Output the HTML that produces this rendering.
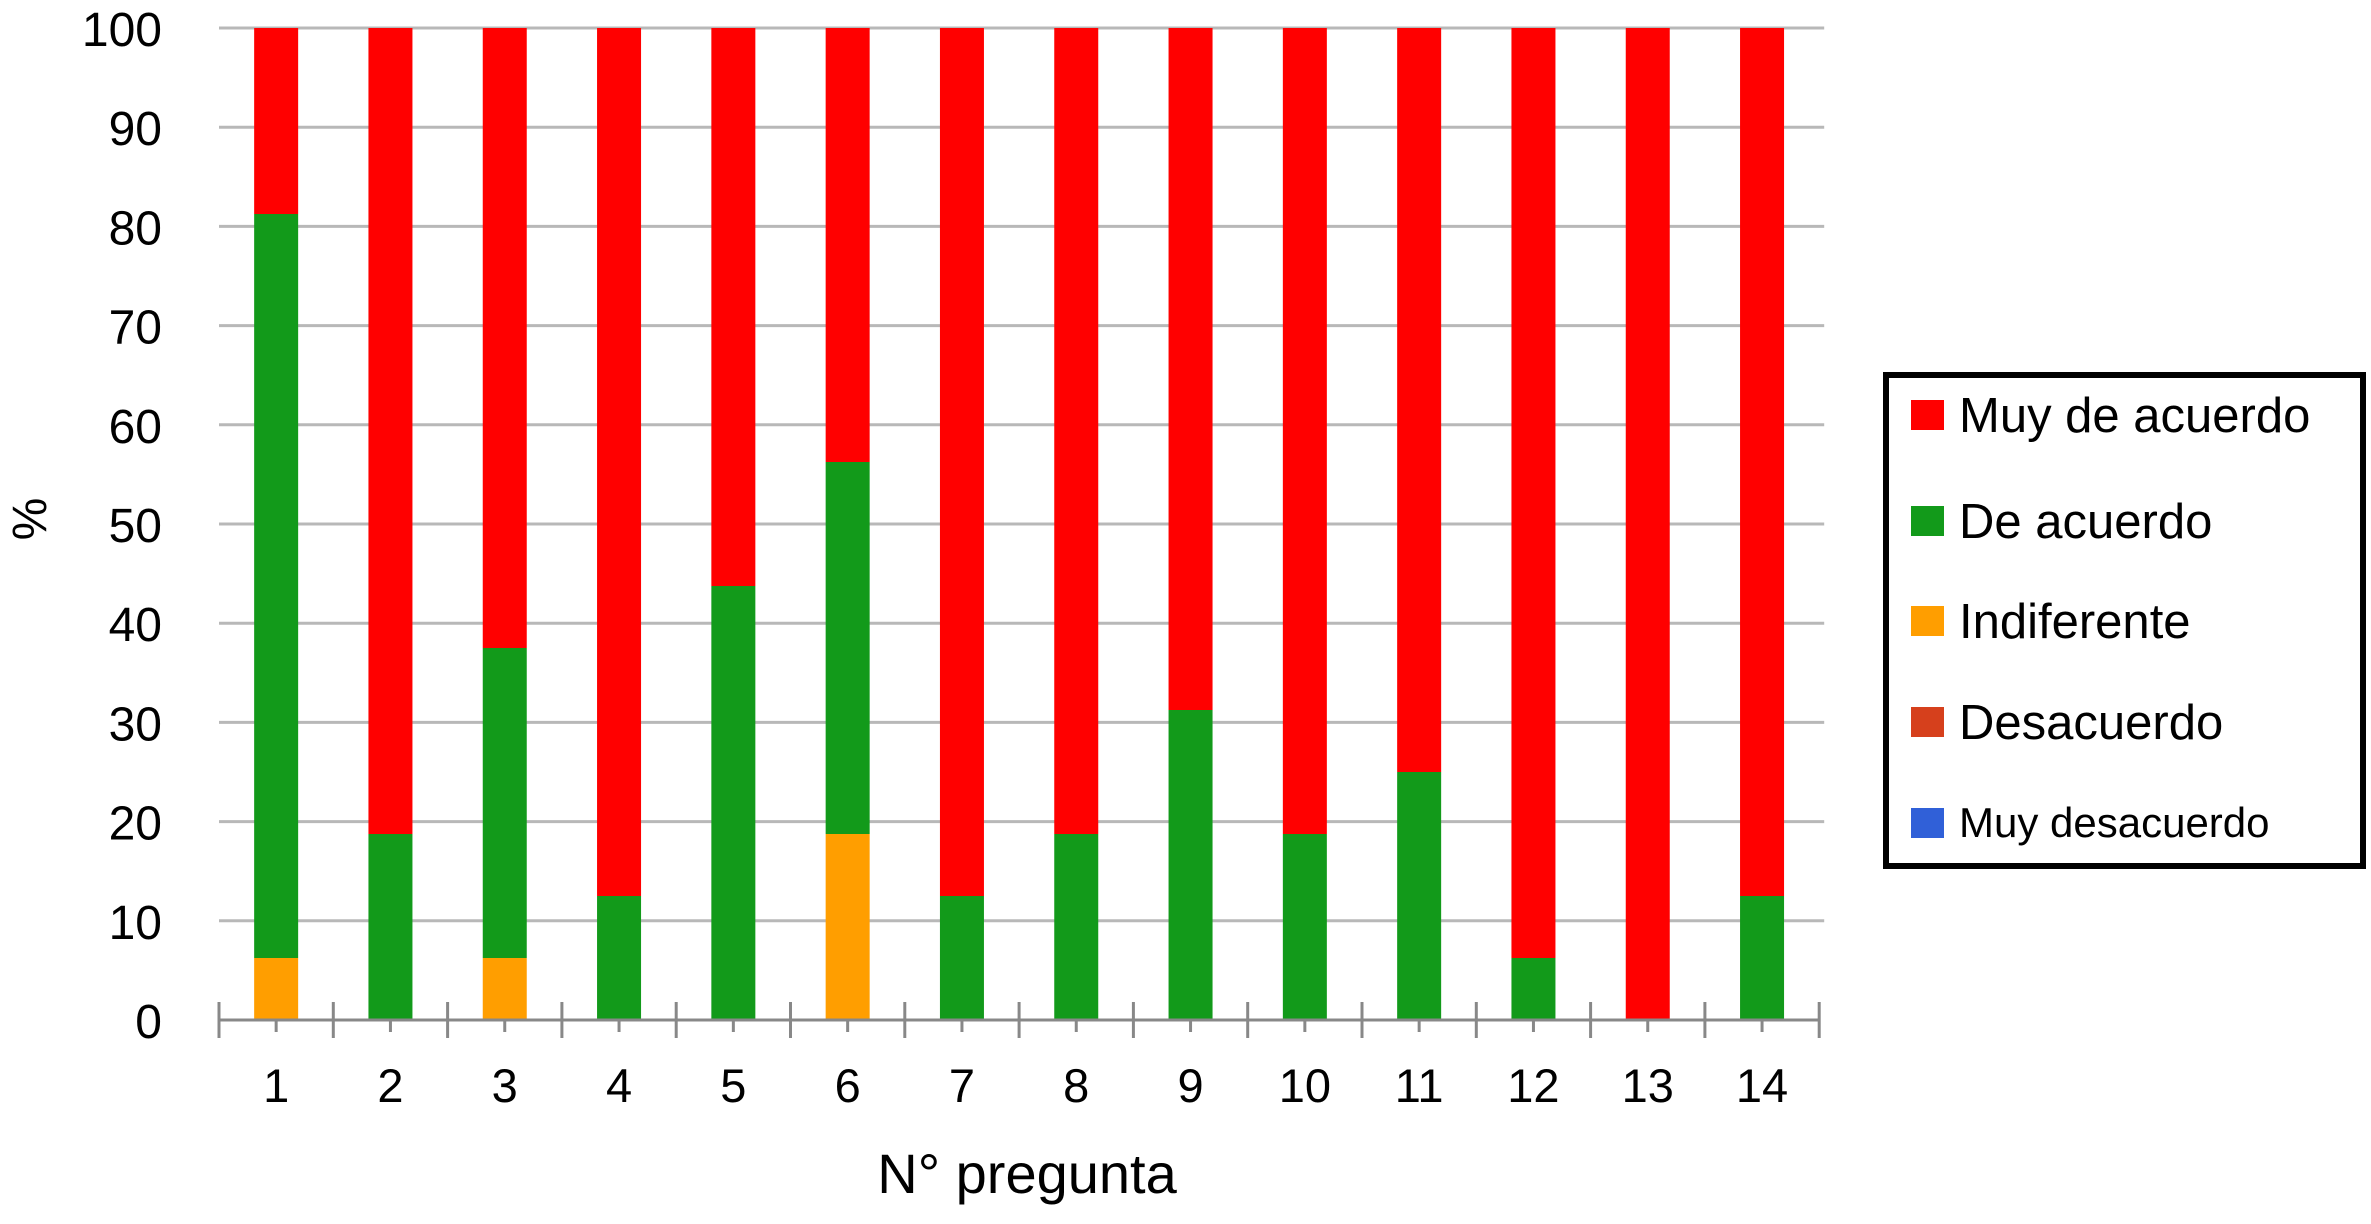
<!DOCTYPE html>
<html><head><meta charset="utf-8"><style>
html,body{margin:0;padding:0;background:#fff;}
svg{display:block;font-family:"Liberation Sans",Arial,sans-serif;}
</style></head><body>
<svg id="chart" width="2371" height="1224" viewBox="0 0 2371 1224"></svg>
<script>
const categories=["1","2","3","4","5","6","7","8","9","10","11","12","13","14"];
const muyDesacuerdo=[0,0,0,0,0,0,0,0,0,0,0,0,0,0];
const desacuerdo=[0,0,0,0,0,0,0,0,0,0,0,0,0,0];
const indiferente=[6.25,0,6.25,0,0,18.75,0,0,0,0,0,0,0,0];
const deAcuerdo=[75,18.75,31.25,12.5,43.75,37.5,12.5,18.75,31.25,18.75,25,6.25,0,12.5];
const muyDeAcuerdo=[18.75,81.25,62.5,87.5,56.25,43.75,87.5,81.25,68.75,81.25,75,93.75,100,87.5];
const yTicks=[0,10,20,30,40,50,60,70,80,90,100];
const seriesNames=["Muy de acuerdo","De acuerdo","Indiferente","Desacuerdo","Muy desacuerdo"];

const NS="http://www.w3.org/2000/svg";
const svg=document.getElementById('chart');
const X0=219,STEP=114.3,Y0=1020,YTOP=28,BW=44;
const y=v=>Y0-(Y0-YTOP)*v/100;
const xc=i=>X0+STEP*(i+0.5);
function mk(t,a){const e=document.createElementNS(NS,t);for(const k in a)e.setAttribute(k,a[k]);svg.appendChild(e);return e;}

yTicks.forEach(t=>{
  if(t>0){const g=mk('line',{x1:X0,x2:X0+STEP*14+5,y1:y(t),y2:y(t),stroke:'#b8b8b8','stroke-width':3});
  
  }
  const l=mk('text',{x:162,y:y(t)+18,'text-anchor':'end','font-size':48,fill:'#000'});
  l.textContent=t;
  
  
});

const stackOrder=[[muyDesacuerdo,'#3060d8','muy-desacuerdo'],[desacuerdo,'#d6401c','desacuerdo'],[indiferente,'#ff9e00','indiferente'],[deAcuerdo,'#129a1a','de-acuerdo'],[muyDeAcuerdo,'#ff0000','muy-de-acuerdo']];
categories.forEach((c,i)=>{
  let base=0;
  stackOrder.forEach(([arr,col,nm])=>{
    const v=arr[i];
    if(v>0){const r=mk('rect',{x:xc(i)-BW/2,y:y(base+v),width:BW,height:y(base)-y(base+v),fill:col});
    
    }
    base+=v;
  });
  const l=mk('text',{x:xc(i),y:1102,'text-anchor':'middle','font-size':47,fill:'#000'});
  l.textContent=c;
  
  
});

const ax=mk('line',{x1:X0,x2:X0+STEP*14,y1:Y0,y2:Y0,stroke:'#888','stroke-width':3});


for(let i=0;i<=14;i++){mk('line',{x1:X0+STEP*i,x2:X0+STEP*i,y1:1002,y2:1038,stroke:'#888','stroke-width':3});}
for(let i=0;i<14;i++){mk('line',{x1:xc(i),x2:xc(i),y1:Y0,y2:1032,stroke:'#888','stroke-width':3});}

const yt=mk('text',{x:0,y:0,transform:'translate(46,519) rotate(-90)','text-anchor':'middle','font-size':48,fill:'#000'});
yt.textContent='%';


const xt=mk('text',{x:1027,y:1193,'text-anchor':'middle','font-size':56,fill:'#000'});
xt.textContent='N° pregunta';



const lb=mk('rect',{x:1886,y:375,width:477,height:491,fill:'#fff',stroke:'#000','stroke-width':6});


const lcols=['#ff0000','#129a1a','#ff9e00','#d6401c','#3060d8'];
const ly=[415,521,621,722,823];
seriesNames.forEach((n,i)=>{
  const s=mk('rect',{x:1911,y:ly[i]-15,width:33,height:30,fill:lcols[i]});
  
  
  const t=mk('text',{x:1959,y:ly[i]+(i===4?14:17),'font-size':i===4?42:49,fill:'#000'});
  t.textContent=n;
  
  
});
</script>
</body></html>
